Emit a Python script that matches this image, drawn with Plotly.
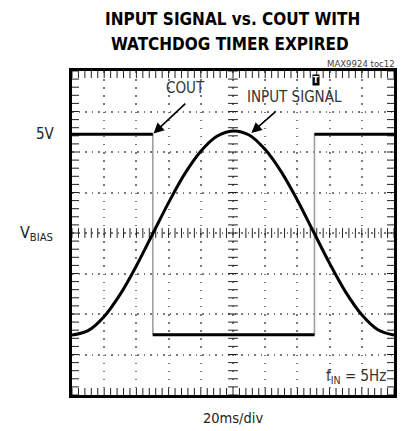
import numpy as np
import plotly.graph_objects as go

# ---- data (scope divisions: x 0..10 div, y -4..4 div) ----
# input signal samples (every 0.5 div)
SIG_T = [0.0, 0.5, 1.0, 1.5, 2.0, 2.5, 3.0, 3.5, 4.0, 4.5, 5.0,
         5.5, 6.0, 6.5, 7.0, 7.5, 8.0, 8.5, 9.0, 9.5, 10.0]
SIG_V = [-2.52, -2.41, -2.06, -1.51, -0.81, -0.03, 0.75, 1.46, 2.02, 2.39, 2.52,
         2.42, 2.06, 1.51, 0.81, 0.03, -0.75, -1.46, -2.02, -2.39, -2.52]
# comparator output
COUT_T = [0.0, 2.51, 2.51, 7.53, 7.53, 10.0]
COUT_V = [2.44, 2.44, -2.51, -2.51, 2.44, 2.44]
# level labels
LEVEL_VALS = [2.44, 0.0]
LEVEL_TEXT = ["5V", "V<sub>BIAS</sub>"]
XRANGE = [0, 10]
YRANGE = [-4, 4]

# page offset (browser body margin) and figure geometry
OFF = 8
W, H = 406 - OFF, 431 - OFF
ML, MT = 72 - OFF, 71 - OFF
PW, PH = 325, 324
MR, MB = W - ML - PW, H - MT - PH

def px(xw):
    return (xw - OFF - ML) / PW

def py(yw):
    return (H - MB - (yw - OFF)) / PH

NARROW = "DejaVu Sans Condensed, Liberation Sans Narrow, Arial Narrow, sans-serif"
GRID = "#7a7a7a"

fig = go.Figure()

# cross ticks on centre lines and inner ticks on the frame
xc = (XRANGE[0] + XRANGE[1]) / 2
yc = (YRANGE[0] + YRANGE[1]) / 2
xm = np.arange(XRANGE[0], XRANGE[1] + 1e-9, 0.2)
ym = np.arange(YRANGE[0], YRANGE[1] + 1e-9, 0.2)
tick_style = dict(color="#222", line=dict(color="#222", width=1))
for xs, ys, sym, sz in [
    (xm, [yc] * len(xm), "line-ns", 7),
    ([xc] * len(ym), ym, "line-ew", 7),
    (np.concatenate([xm, xm]), [YRANGE[0]] * len(xm) + [YRANGE[1]] * len(xm), "line-ns", 10),
    ([XRANGE[0]] * len(ym) + [XRANGE[1]] * len(ym), np.concatenate([ym, ym]), "line-ew", 10),
]:
    fig.add_trace(go.Scatter(x=xs, y=ys, mode="markers", cliponaxis=True,
                             marker=dict(symbol=sym, size=sz, **tick_style),
                             hoverinfo="skip", showlegend=False))

# COUT: gray edges, black levels
fig.add_trace(go.Scatter(x=COUT_T, y=COUT_V, mode="lines",
                         line=dict(color="#a0a0a0", width=1.6), hoverinfo="skip", showlegend=False))
hx, hy = [], []
for i in range(len(COUT_T) - 1):
    if COUT_V[i] == COUT_V[i + 1]:
        hx += [COUT_T[i], COUT_T[i + 1], None]
        hy += [COUT_V[i], COUT_V[i + 1], None]
fig.add_trace(go.Scatter(x=hx, y=hy, mode="lines",
                         line=dict(color="black", width=3), hoverinfo="skip", showlegend=False))

# input signal
fig.add_trace(go.Scatter(x=SIG_T, y=SIG_V, mode="lines",
                         line=dict(color="black", width=3, shape="spline", smoothing=1.0),
                         hoverinfo="skip", showlegend=False))

axis_common = dict(showline=True, mirror=True, linecolor="black", linewidth=3,
                   showticklabels=False, ticks="", zeroline=False, showgrid=True,
                   gridcolor=GRID, gridwidth=1.5, fixedrange=True)
fig.update_xaxes(range=XRANGE, dtick=1, tick0=0, griddash="1.5px,6.6px", **axis_common)
fig.update_yaxes(range=YRANGE, dtick=1, tick0=0, griddash="1.5px,5.0px", **axis_common)

ann = []
def label(xw, yw, text, size, color="#222", bold=False, **kw):
    t = f"<b>{text}</b>" if bold else text
    d = dict(x=px(xw), y=py(yw), xref="paper", yref="paper", text=t, showarrow=False,
             xanchor="center", yanchor="middle",
             font=dict(family=NARROW, size=size, color=color))
    d.update(kw)
    ann.append(d)

label(234, 19, "INPUT SIGNAL vs. COUT WITH", 17, "black", True)
label(231, 44, "WATCHDOG TIMER EXPIRED", 17, "black", True)
label(400, 64, "MAX9924 toc12", 9.5, "#444", xanchor="right")
for v, t, s, xr in zip(LEVEL_VALS, LEVEL_TEXT, [15, 16], [57, 55]):
    ann.append(dict(x=px(xr), y=v, xref="paper", yref="y", xanchor="right", yanchor="middle",
                    text=t, showarrow=False,
                    font=dict(family=NARROW, size=s, color="#222")))
# callouts
ann.append(dict(x=COUT_T[1], y=COUT_V[1], xref="x", yref="y",
                ax=34, ay=-32, axref="pixel", ayref="pixel",
                text="", showarrow=True, arrowhead=2, arrowsize=1.3, arrowwidth=1.6,
                arrowcolor="black", standoff=1))
label(187, 88, "COUT", 15, "#333")
ann.append(dict(x=px(253), y=py(133), xref="paper", yref="paper",
                ax=26, ay=-23, axref="pixel", ayref="pixel",
                text="", showarrow=True, arrowhead=2, arrowsize=1.3, arrowwidth=1.6,
                arrowcolor="black", standoff=0))
label(297, 97, "INPUT SIGNAL", 15, "#333")
label(318, 80, "<b>T</b>", 9, "white", bgcolor="black", borderpad=0)
label(359, 376, "f<sub>IN</sub> = 5Hz", 15, "#333")
label(234, 418, "20ms/div", 14.5, "#222")

fig.update_layout(width=W, height=H, margin=dict(l=ML, r=MR, t=MT, b=MB),
                  paper_bgcolor="white", plot_bgcolor="white", annotations=ann,
                  showlegend=False)
fig.write_html("out.html", config={"displayModeBar": False})
